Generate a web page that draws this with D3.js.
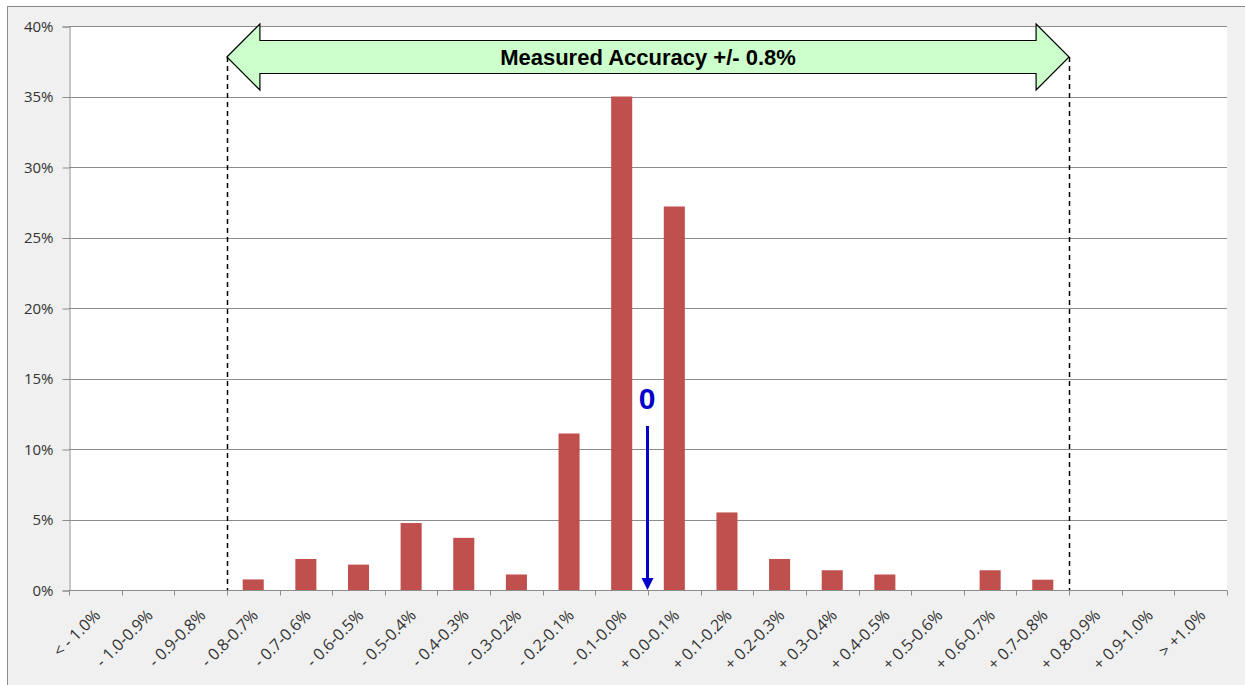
<!DOCTYPE html>
<html>
<head>
<meta charset="utf-8">
<script src="https://cdn.jsdelivr.net/npm/d3@7"></script>
<style>
  body { margin: 0; background: #fff; }
  svg { display: block; }
</style>
</head>
<body>
<svg id="chart"></svg>
<script>
// error bins (x axis)
const bins = ["< - 1.0%", "- 1.0-0.9%", "- 0.9-0.8%", "- 0.8-0.7%", "- 0.7-0.6%", "- 0.6-0.5%",
  "- 0.5-0.4%", "- 0.4-0.3%", "- 0.3-0.2%", "- 0.2-0.1%", "- 0.1-0.0%",
  "+ 0.0-0.1%", "+ 0.1-0.2%", "+ 0.2-0.3%", "+ 0.3-0.4%", "+ 0.4-0.5%", "+ 0.5-0.6%",
  "+ 0.6-0.7%", "+ 0.7-0.8%", "+ 0.8-0.9%", "+ 0.9-1.0%", "> +1.0%"];
// share of readings per bin, in percent
const share = [0, 0, 0, 0.75, 2.2, 1.8, 4.75, 3.7, 1.1, 11.1, 35.0,
  27.2, 5.5, 2.2, 1.4, 1.1, 0, 1.4, 0.73, 0, 0, 0];
const yTicks = [0, 5, 10, 15, 20, 25, 30, 35, 40];
const accuracyLabel = "Measured Accuracy +/- 0.8%";
const accuracyFrom = "- 0.8-0.7%";   // first bin inside the band
const accuracyTo = "+ 0.8-0.9%";     // first bin outside the band
const zeroBin = "+ 0.0-0.1%";

const W = 1245, H = 685;
const plot = {left: 69, top: 26, right: 1227, bottom: 590};

const svg = d3.select("#chart").attr("width", W).attr("height", H);

// chart area background
svg.append("rect")
    .attr("x", 7.5).attr("y", 6.5)
    .attr("width", W + 10).attr("height", H + 10)
    .attr("fill", "#f0f0f0")
    .attr("stroke", "#8a8a8a");

svg.append("rect")
    .attr("x", plot.left).attr("y", plot.top)
    .attr("width", plot.right - plot.left).attr("height", plot.bottom - plot.top)
    .attr("fill", "#fff");

const x = d3.scaleBand()
    .domain(bins)
    .range([plot.left, plot.right])
    .paddingInner(0.6)
    .paddingOuter(0.3);
// band edges for ticks (no padding)
const xEdge = d3.scaleBand().domain(bins).range([plot.left, plot.right]);

const y = d3.scaleLinear()
    .domain([0, 40])
    .range([plot.bottom, plot.top]);

// gridlines
svg.append("g")
    .selectAll("line")
    .data(yTicks.filter(d => d > 0))
    .enter()
    .append("line")
    .attr("x1", plot.left).attr("x2", plot.right)
    .attr("y1", d => Math.round(y(d)) + 0.5)
    .attr("y2", d => Math.round(y(d)) + 0.5)
    .attr("stroke", "#8c8c8c");

// y axis
let yAxis = d3.axisLeft(y)
    .tickValues(yTicks)
    .tickFormat(d => d + "%")
    .tickSize(7)
    .tickPadding(9);
let gy = svg.append("g")
    .attr("transform", `translate(${plot.left + 0.5},0.5)`)
    .call(yAxis);
gy.select(".domain").attr("stroke", "#8c8c8c");
gy.selectAll(".tick line").attr("stroke", "#8c8c8c");
gy.selectAll(".tick text")
    .attr("font-family", "'Open Sans', sans-serif")
    .attr("font-size", "15px")
    .attr("fill", "#333");

// bars
svg.append("g")
    .selectAll("rect")
    .data(bins.map((b, i) => ({bin: b, v: share[i]})).filter(d => d.v > 0))
    .enter()
    .append("rect")
    .attr("x", d => x(d.bin))
    .attr("width", x.bandwidth())
    .attr("y", d => y(d.v))
    .attr("height", d => y(0) - y(d.v))
    .attr("fill", "#c0504d");

// x axis
const gx = svg.append("g").attr("transform", `translate(0,${plot.bottom + 0.5})`);
gx.append("line")
    .attr("x1", plot.left).attr("x2", plot.right)
    .attr("stroke", "#8c8c8c");
gx.selectAll(".xt")
    .data(bins.concat(["end"]))
    .enter()
    .append("line")
    .attr("class", "xt")
    .attr("x1", (d, i) => Math.round(i < bins.length ? xEdge(d) : plot.right) + 0.5)
    .attr("x2", (d, i) => Math.round(i < bins.length ? xEdge(d) : plot.right) + 0.5)
    .attr("y1", 0).attr("y2", 5)
    .attr("stroke", "#8c8c8c");
gx.selectAll("text")
    .data(bins)
    .enter()
    .append("text")
    .attr("transform", d => `translate(${xEdge(d) + xEdge.bandwidth() / 2 + 6},26) rotate(-45)`)
    .attr("text-anchor", "end")
    .attr("font-family", "'Open Sans', sans-serif")
    .attr("font-size", "16px")
    .attr("fill", "#333")
    .text(d => d);

// accuracy band: dashed limits
const xa = xEdge(accuracyFrom), xb = xEdge(accuracyTo);
const tipY = 57;
[xa, xb].forEach(px => {
    svg.append("line")
        .attr("x1", Math.round(px) + 0.5).attr("x2", Math.round(px) + 0.5)
        .attr("y1", tipY).attr("y2", plot.bottom)
        .attr("stroke", "#000")
        .attr("stroke-width", 1.5)
        .attr("stroke-dasharray", "5,4");
});

// double arrow
const head = 33, halfH = 33, halfS = 16.5;
const arrowPts = [
    [xa, tipY], [xa + head, tipY - halfH], [xa + head, tipY - halfS],
    [xb - head, tipY - halfS], [xb - head, tipY - halfH], [xb, tipY],
    [xb - head, tipY + halfH], [xb - head, tipY + halfS],
    [xa + head, tipY + halfS], [xa + head, tipY + halfH]
];
svg.append("path")
    .attr("d", d3.line()(arrowPts) + "Z")
    .attr("fill", "#ccffcc")
    .attr("stroke", "#000")
    .attr("stroke-width", 1.2);
svg.append("text")
    .attr("x", (xa + xb) / 2)
    .attr("y", tipY + 8)
    .attr("text-anchor", "middle")
    .attr("font-family", "'Liberation Sans', Arial, sans-serif")
    .attr("font-weight", "bold")
    .attr("font-size", "22px")
    .attr("fill", "#000")
    .text(accuracyLabel);

// zero marker
const xz = xEdge(zeroBin);
svg.append("text")
    .attr("x", xz - 1)
    .attr("y", 409)
    .attr("text-anchor", "middle")
    .attr("font-family", "'Liberation Sans', Arial, sans-serif")
    .attr("font-weight", "bold")
    .attr("font-size", "30px")
    .attr("fill", "#0000cc")
    .text("0");
svg.append("line")
    .attr("x1", xz - 0.5).attr("x2", xz - 0.5)
    .attr("y1", 426).attr("y2", plot.bottom - 12)
    .attr("stroke", "#0000cc")
    .attr("stroke-width", 3);
svg.append("path")
    .attr("d", d3.line()([[xz - 6.5, plot.bottom - 12], [xz + 5.5, plot.bottom - 12], [xz - 0.5, plot.bottom]]) + "Z")
    .attr("fill", "#0000cc");
</script>
</body>
</html>
